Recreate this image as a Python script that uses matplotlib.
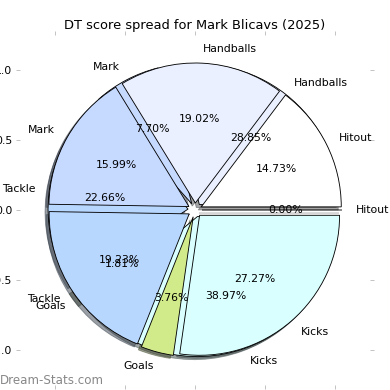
import matplotlib
matplotlib.use("Agg")
import matplotlib.pyplot as plt

# categories in pie order (counter-clockwise from 0 deg)
cats = ["Hitout", "Handballs", "Mark", "Tackle", "Goals", "Kicks"]
# back pie (drawn first) and front pie, values in percent
vals_back = [0.00, 28.85, 7.70, 22.66, 1.81, 38.97]
vals_front = [14.73, 19.02, 15.99, 19.23, 3.76, 27.27]
colors = ["#ffffff", "#eaf0ff", "#c6d9ff", "#b8d7ff", "#d2eb8a", "#d9ffff"]

fig = plt.figure(figsize=(5, 5), dpi=78)
ax = fig.add_axes([20/390, 5/390, 350/390, 350/390])

wp = dict(edgecolor="black", linewidth=0.8)
for vals in (vals_back, vals_front):
    ax.pie(vals, labels=cats, colors=colors, explode=[0.05]*len(vals),
           autopct="%1.2f%%", shadow=True, wedgeprops=wp)

ax.set_xlim(-1.25, 1.25); ax.set_ylim(-1.25, 1.25)
ax.set_xticks([-1.0, -0.5, 0.0, 0.5, 1.0])
ax.set_yticks([-1.0, -0.5, 0.0, 0.5, 1.0])
ax.tick_params(top=True, right=True, color="#bbbbbb")
for s in ax.spines.values(): s.set_visible(False)
ax.set_title("DT score spread for Mark Blicavs (2025)")

fig.text(0.0, 10/390, "Dream-Stats.com", fontsize=11, color="#888888",
         ha="left", va="center")

fig.savefig("out.png", dpi=78, facecolor="white")
